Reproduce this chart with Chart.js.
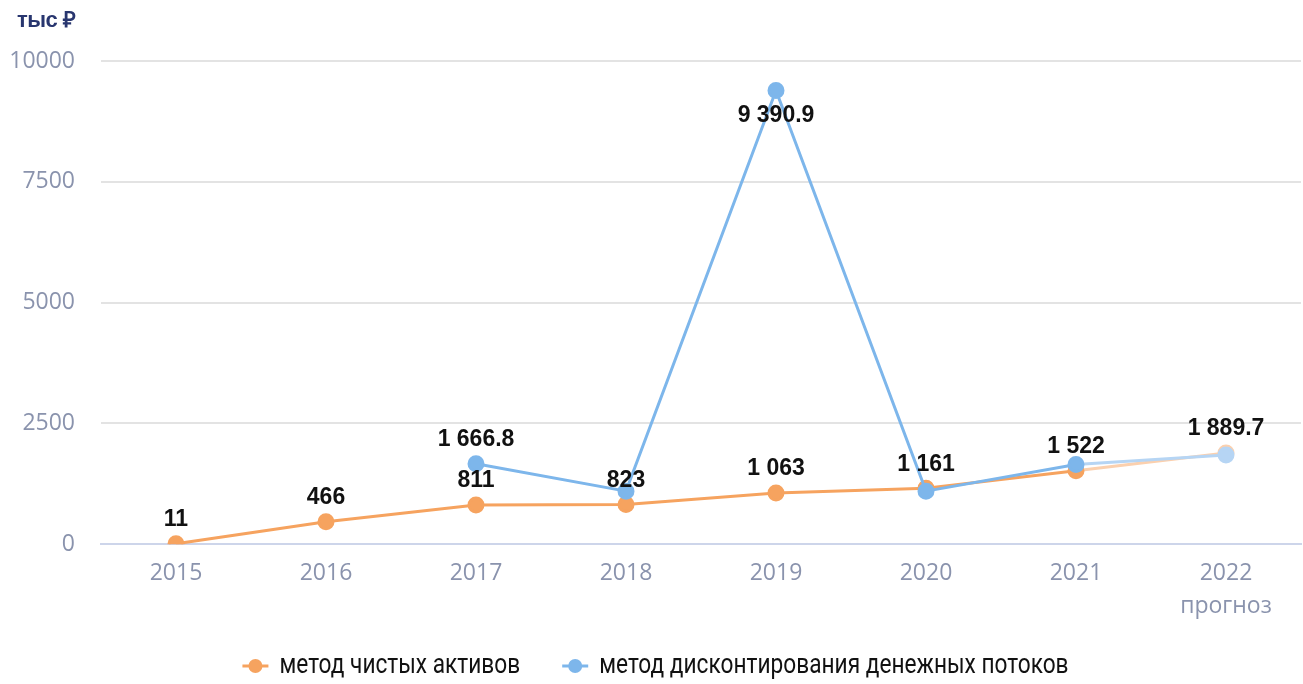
<!DOCTYPE html>
<html>
<head>
<meta charset="utf-8">
<script src="https://cdn.jsdelivr.net/npm/chart.js@4/dist/chart.umd.min.js"></script>
<style>
  html, body { margin: 0; padding: 0; background: #ffffff; overflow: hidden; }
  #wrap { position: relative; width: 1303px; height: 684px; }
  #c { display: block; }
  #unit { position: absolute; left: 17px; top: 3px; font: bold 22px "Liberation Sans", Arial, sans-serif; color: #28366f; letter-spacing: -0.5px; }
</style>
</head>
<body>
<div id="wrap">
  <canvas id="c" width="1303" height="684"></canvas>
  <div id="unit">тыс ₽</div>
</div>
<script>
// ---- data ----
const categories = ['2015', '2016', '2017', '2018', '2019', '2020', '2021', '2022'];
const xTickLabels = ['2015', '2016', '2017', '2018', '2019', '2020', '2021', ['2022', 'прогноз']];
const netAssetsValues = [11, 466, 811, 823, 1063, 1161, 1522, 1889.7];
const dcfValues = [null, null, 1666.8, 1100, 9390.9, 1100, 1650, 1850];
const yTicks = [0, 2500, 5000, 7500, 10000];
const seriesNames = ['метод чистых активов', 'метод дисконтирования денежных потоков'];
const netAssetsLabelIdx = [0, 1, 2, 3, 4, 5, 6, 7];
const dcfLabelIdx = [2, 4];
const dcfLabelBelowIdx = [4];
const forecastIdx = 7;

const ORANGE = '#f6a35f', ORANGE_LIGHT = '#fbd0ae';
const BLUE = '#7db6eb', BLUE_LIGHT = '#b6d5f4';

function fmt(v) {
  const parts = String(v).split('.');
  parts[0] = parts[0].replace(/\B(?=(\d{3})+(?!\d))/g, ' ');
  return parts.join('.');
}

const pointColors = (base, light) => categories.map((_, i) => i === forecastIdx ? light : base);

const labelPlugin = {
  id: 'valueLabels',
  afterDatasetsDraw(chart) {
    const ctx = chart.ctx;
    ctx.save();
    ctx.font = 'bold 23px "Liberation Sans", Arial, sans-serif';
    ctx.fillStyle = '#111111';
    ctx.textAlign = 'center';
    ctx.textBaseline = 'middle';
    chart.data.datasets.forEach((ds, di) => {
      const meta = chart.getDatasetMeta(di);
      ds.labelIdx.forEach(i => {
        const v = ds.data[i];
        if (v == null) return;
        const el = meta.data[i];
        const below = ds.labelBelow.includes(i);
        ctx.fillText(fmt(v), el.x, el.y + (below ? 25 : -24));
      });
    });
    ctx.restore();
  }
};

// legend drawn with horizontally condensed text
const legendPlugin = {
  id: 'condensedLegend',
  afterDraw(chart) {
    const ctx = chart.ctx;
    const sx = 0.84, lineW = 26, gapText = 11, gapItem = 42, cy = 666;
    ctx.save();
    ctx.font = '27px Roboto, "Noto Sans", sans-serif';
    const items = chart.data.datasets.map(ds => ({ color: ds.borderColor, text: ds.label, w: ctx.measureText(ds.label).width * sx }));
    let total = 0;
    items.forEach((it, i) => { total += lineW + gapText + it.w + (i < items.length - 1 ? gapItem : 0); });
    let x = chart.width / 2 + 4 - total / 2;
    items.forEach(it => {
      ctx.strokeStyle = it.color; ctx.lineWidth = 3;
      ctx.beginPath(); ctx.moveTo(x, cy); ctx.lineTo(x + lineW, cy); ctx.stroke();
      ctx.fillStyle = it.color;
      ctx.beginPath(); ctx.arc(x + lineW / 2, cy, 7, 0, Math.PI * 2); ctx.fill();
      x += lineW + gapText;
      ctx.save();
      ctx.translate(x, cy);
      ctx.scale(sx, 1);
      ctx.fillStyle = '#111111';
      ctx.textAlign = 'left';
      ctx.textBaseline = 'middle';
      ctx.fillText(it.text, 0, 0);
      ctx.restore();
      x += it.w + gapItem;
    });
    ctx.restore();
  }
};

new Chart(document.getElementById('c'), {
  type: 'line',
  data: {
    labels: xTickLabels,
    datasets: [
      {
        label: seriesNames[0],
        data: netAssetsValues,
        borderColor: ORANGE,
        backgroundColor: ORANGE,
        pointBackgroundColor: pointColors(ORANGE, ORANGE_LIGHT),
        pointBorderColor: pointColors(ORANGE, ORANGE_LIGHT),
        borderWidth: 3,
        pointRadius: 7,
        pointHoverRadius: 7,
        tension: 0,
        order: 1,
        segment: { borderColor: s => s.p1DataIndex === forecastIdx ? ORANGE_LIGHT : ORANGE },
        labelIdx: netAssetsLabelIdx,
        labelBelow: []
      },
      {
        label: seriesNames[1],
        data: dcfValues,
        borderColor: BLUE,
        backgroundColor: BLUE,
        pointBackgroundColor: pointColors(BLUE, BLUE_LIGHT),
        pointBorderColor: pointColors(BLUE, BLUE_LIGHT),
        borderWidth: 3,
        pointRadius: 7,
        pointHoverRadius: 7,
        tension: 0,
        order: 0,
        segment: { borderColor: s => s.p1DataIndex === forecastIdx ? BLUE_LIGHT : BLUE },
        labelIdx: dcfLabelIdx,
        labelBelow: dcfLabelBelowIdx
      }
    ]
  },
  options: {
    responsive: false,
    animation: false,
    layout: { autoPadding: false, padding: { left: 8, right: 2, top: 61, bottom: 49 } },
    scales: {
      x: {
        offset: true,
        afterFit: axis => { axis.paddingLeft = 0; axis.paddingRight = 0; },
        grid: { display: false, drawTicks: false },
        border: { display: true, color: '#cdd5ea', width: 2 },
        ticks: { color: '#8a93ad', font: { family: '"Open Sans", sans-serif', size: 23, lineHeight: 1.45 }, padding: 12, maxRotation: 0 }
      },
      y: {
        min: 0, max: 10000,
        afterBuildTicks: axis => { axis.ticks = yTicks.map(v => ({ value: v })); },
        afterFit: axis => { axis.width = 93; },
        grid: { color: '#e3e3e3', lineWidth: 2, drawTicks: false },
        border: { display: false },
        ticks: { color: '#8a93ad', font: { family: '"Open Sans", sans-serif', size: 23 }, padding: 26, callback: v => String(v) }
      }
    },
    plugins: {
      legend: { display: false },
      tooltip: { enabled: false },
      title: { display: false }
    }
  },
  plugins: [labelPlugin, legendPlugin]
});
</script>
</body>
</html>
